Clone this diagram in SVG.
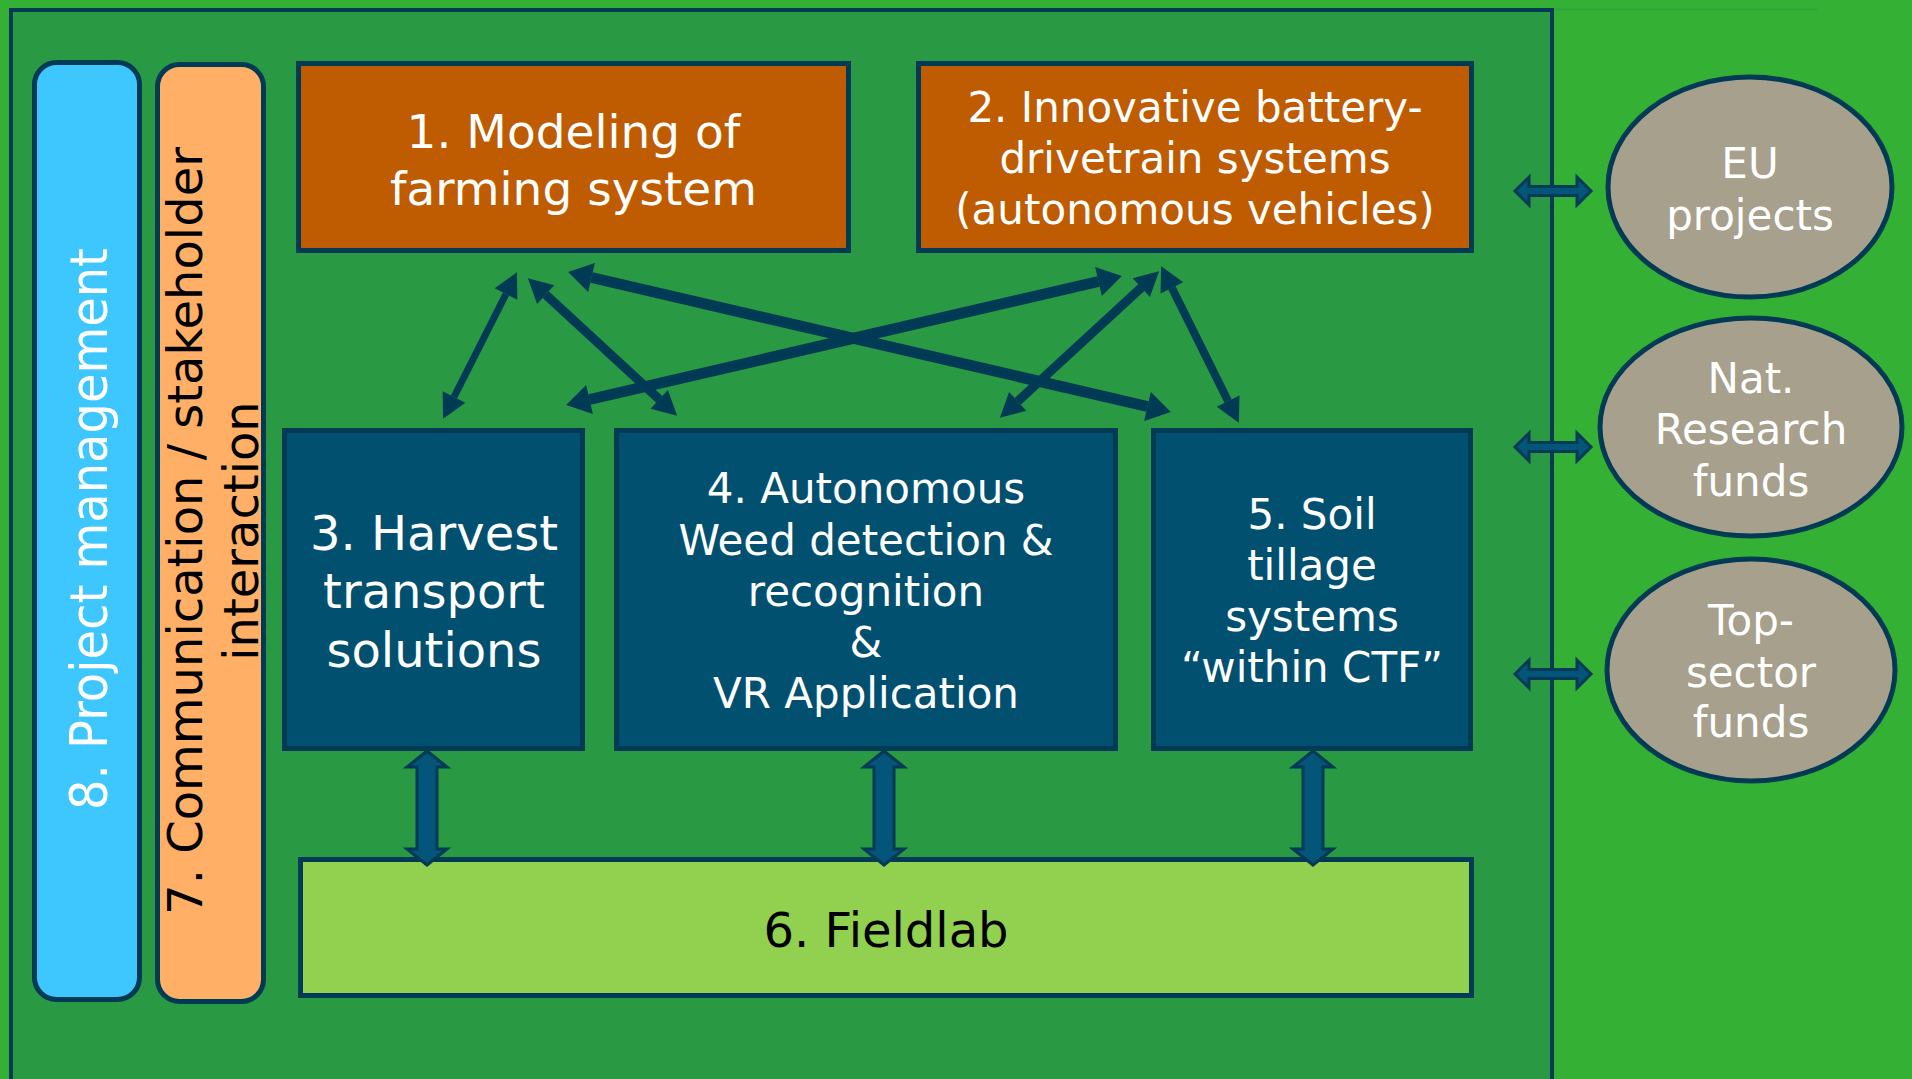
<svg xmlns="http://www.w3.org/2000/svg" width="1912" height="1079" viewBox="0 0 1912 1079">
  <style>
    .txt { font-family: "DejaVu Sans", Verdana, sans-serif; text-anchor: middle; }
    .w { fill: #ffffff; }
    .k { fill: #000000; }
    .wp { fill: #bf5b00; stroke: #003a55; stroke-width: 5; }
    .wb { fill: #02506f; stroke: #003a55; stroke-width: 5; }
    .fund { fill: #a7a08c; stroke: #003a55; stroke-width: 5; }
    .link { stroke: #003a55; fill: none; }
    .block { fill: #03557a; stroke: #003a55; stroke-width: 3; stroke-linejoin: miter; }
  </style>
  <defs>
    <marker id="hd" markerUnits="userSpaceOnUse" markerWidth="30" markerHeight="30" viewBox="0 -13 22 26" refX="0" refY="0" orient="auto-start-reverse">
      <path d="M0,-11 L21,0 L0,11 z" fill="#003a55"/>
    </marker>
    <marker id="hdL" markerUnits="userSpaceOnUse" markerWidth="32" markerHeight="32" viewBox="0 -14 22 28" refX="0" refY="0" orient="auto-start-reverse">
      <path d="M0,-13 L21,0 L0,13 z" fill="#003a55"/>
    </marker>
  </defs>

  <!-- background and project frame -->
  <rect x="0" y="0" width="1912" height="1079" fill="#34b034"/>
  <line x1="1555" y1="9.5" x2="1817" y2="9.5" stroke="#2ea53c" stroke-width="2"/>
  <rect id="frame" x="11" y="10" width="1541" height="1090" fill="#299944" stroke="#003a55" stroke-width="4"/>

  <!-- side bars -->
  <g id="node-8">
    <rect x="34.5" y="62.5" width="105" height="937" rx="22" fill="#3ec6fe" stroke="#003a55" stroke-width="5"/>
    <text class="txt w" font-size="48" transform="translate(107,529) rotate(-90) scale(1,1.08)">8. Project management</text>
  </g>
  <g id="node-7">
    <rect x="157.5" y="64.5" width="106" height="937" rx="22" fill="#ffaf66" stroke="#003a55" stroke-width="5"/>
    <text class="txt k" font-size="48" transform="translate(202,531) rotate(-90)">7. Communication / stakeholder</text>
    <text class="txt k" font-size="48" transform="translate(258,531) rotate(-90)">interaction</text>
  </g>

  <!-- work packages -->
  <g id="node-1">
    <rect class="wp" x="298.5" y="63.5" width="550" height="187"/>
    <text class="txt w" font-size="47" x="573.5" y="148">1. Modeling of</text>
    <text class="txt w" font-size="47" x="573.5" y="205">farming system</text>
  </g>
  <g id="node-2">
    <rect class="wp" x="918.5" y="63.5" width="553" height="187"/>
    <text class="txt w" font-size="42" x="1195" y="122">2. Innovative battery-</text>
    <text class="txt w" font-size="42" x="1195" y="173">drivetrain systems</text>
    <text class="txt w" font-size="42" x="1195" y="224">(autonomous vehicles)</text>
  </g>
  <g id="node-3">
    <rect class="wb" x="284.5" y="430.5" width="298" height="318"/>
    <text class="txt w" font-size="48" x="434" y="550">3. Harvest</text>
    <text class="txt w" font-size="48" x="434" y="608">transport</text>
    <text class="txt w" font-size="48" x="434" y="667">solutions</text>
  </g>
  <g id="node-4">
    <rect class="wb" x="616.5" y="430.5" width="499" height="318"/>
    <text class="txt w" font-size="42" x="866" y="503">4. Autonomous</text>
    <text class="txt w" font-size="42" x="866" y="555">Weed detection &amp;</text>
    <text class="txt w" font-size="42" x="866" y="606">recognition</text>
    <text class="txt w" font-size="42" x="866" y="657">&amp;</text>
    <text class="txt w" font-size="42" x="866" y="708">VR Application</text>
  </g>
  <g id="node-5">
    <rect class="wb" x="1153.5" y="430.5" width="317" height="318"/>
    <text class="txt w" font-size="42" x="1312" y="529">5. Soil</text>
    <text class="txt w" font-size="42" x="1312" y="580">tillage</text>
    <text class="txt w" font-size="42" x="1312" y="631">systems</text>
    <text class="txt w" font-size="42" x="1312" y="682">“within CTF”</text>
  </g>
  <g id="node-6">
    <rect x="300.5" y="859.5" width="1171" height="136" fill="#92d050" stroke="#003a55" stroke-width="5"/>
    <text class="txt k" font-size="48" x="886" y="947">6. Fieldlab</text>
  </g>

  <!-- funding sources -->
  <g id="fund-eu">
    <ellipse class="fund" cx="1750" cy="187" rx="142" ry="110"/>
    <text class="txt w" font-size="42" x="1750" y="178">EU</text>
    <text class="txt w" font-size="42" x="1750" y="230">projects</text>
  </g>
  <g id="fund-nat">
    <ellipse class="fund" cx="1751" cy="427" rx="151" ry="109"/>
    <text class="txt w" font-size="42" x="1751" y="393">Nat.</text>
    <text class="txt w" font-size="42" x="1751" y="444">Research</text>
    <text class="txt w" font-size="42" x="1751" y="496">funds</text>
  </g>
  <g id="fund-top">
    <ellipse class="fund" cx="1751" cy="670" rx="144" ry="111"/>
    <text class="txt w" font-size="42" x="1751" y="635">Top-</text>
    <text class="txt w" font-size="42" x="1751" y="687">sector</text>
    <text class="txt w" font-size="42" x="1751" y="737">funds</text>
  </g>

  <!-- connectors -->
  <g id="connectors">
    <!-- 1 <-> 3 -->
    <line class="link" x1="506" y1="294" x2="454" y2="397" stroke-width="7" marker-start="url(#hd)" marker-end="url(#hd)"/>
    <!-- 1 <-> 4 -->
    <line class="link" x1="545.7" y1="294.6" x2="659.3" y2="399.4" stroke-width="9" marker-start="url(#hd)" marker-end="url(#hd)"/>
    <!-- 1 <-> 5 -->
    <line class="link" x1="591.5" y1="277.5" x2="1147.5" y2="406.5" stroke-width="11" marker-start="url(#hdL)" marker-end="url(#hdL)"/>
    <!-- 2 <-> 3 -->
    <line class="link" x1="589.5" y1="399.5" x2="1098.5" y2="281.5" stroke-width="11" marker-start="url(#hdL)" marker-end="url(#hdL)"/>
    <!-- 2 <-> 4 -->
    <line class="link" x1="1141.3" y1="287.6" x2="1017.7" y2="401.4" stroke-width="9" marker-start="url(#hd)" marker-end="url(#hd)"/>
    <!-- 2 <-> 5 -->
    <line class="link" x1="1171.9" y1="287.9" x2="1228.1" y2="401.1" stroke-width="8" marker-start="url(#hd)" marker-end="url(#hd)"/>

    <!-- packages <-> fieldlab -->
    <polygon class="block" points="427,751 447,767 437,767 437,849 447,849 427,865 407,849 417,849 417,767 407,767"/>
    <polygon class="block" points="884,751 904,767 894,767 894,849 904,849 884,865 864,849 874,849 874,767 864,767"/>
    <polygon class="block" points="1313,751 1333,767 1323,767 1323,849 1333,849 1313,865 1293,849 1303,849 1303,767 1293,767"/>

    <!-- project <-> funding -->
    <polygon class="block" points="1515,191 1529,177 1529,186.5 1577,186.5 1577,177 1591,191 1577,205 1577,195.5 1529,195.5 1529,205"/>
    <polygon class="block" points="1515,447 1529,433 1529,442.5 1577,442.5 1577,433 1591,447 1577,461 1577,451.5 1529,451.5 1529,461"/>
    <polygon class="block" points="1515,674 1529,660 1529,669.5 1577,669.5 1577,660 1591,674 1577,688 1577,678.5 1529,678.5 1529,688"/>
  </g>
</svg>
